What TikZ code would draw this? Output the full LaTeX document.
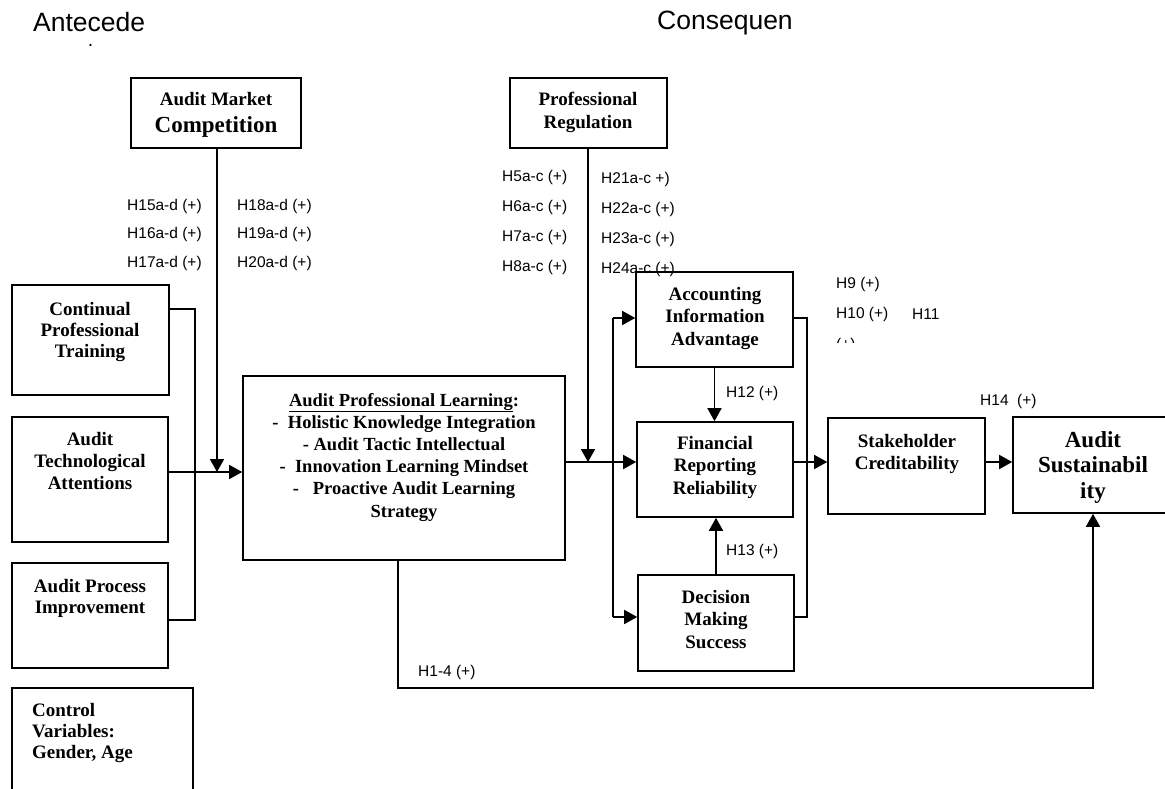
\documentclass[tikz,border=0pt]{standalone}
\usepackage{fontspec}
\setmainfont{Liberation Serif}
\newfontfamily\labfont{Liberation Sans}
\usetikzlibrary{arrows.meta}
\newcommand{\btext}[3]{\fontsize{#1}{#2}\selectfont\bfseries\begin{tabular}[t]{@{}c@{}}#3\end{tabular}}
\newcommand{\btextl}[3]{\fontsize{#1}{#2}\selectfont\bfseries\begin{tabular}[t]{@{}l@{}}#3\end{tabular}}
\newcommand{\mkbox}[5]{\node[bx, minimum width={#4-#2}, minimum height={#5-#3}] (#1) at ({(#2+#4)/2},{(#3+#5)/2}) {};}
\tikzset{
  bx/.style={draw, line width=1.6pt, inner sep=0pt, rectangle},
  lab/.style={font=\labfont\fontsize{15.5}{18}\selectfont, inner sep=0pt, anchor=west},
  hdr/.style={font=\labfont\fontsize{26.5}{30}\selectfont, inner sep=0pt, anchor=base west},
  tx/.style={inner sep=0pt, anchor=base},
  conn/.style={line width=1.6pt},
  arr/.style={conn, -{Triangle[length=13pt,width=14pt]}},
}
\begin{document}
\begin{tikzpicture}[x=1pt,y=-1pt]
\useasboundingbox (0,0) rectangle (1165,789);
\clip (0,0) rectangle (1165,789);
\fill[white] (0,0) rectangle (1165,789);

% headers
\node[hdr] (hA) at (33,32) {Antecede};
\node[hdr] (hC) at (657,30) {Consequen};
\begin{scope}
  \clip (87,0) rectangle (93,46);
  \node[font=\labfont\fontsize{26.5}{30}\selectfont, inner sep=0pt, anchor=base] (hA2) at (90,62) {nts};
\end{scope}

% hypothesis labels
\node[lab] (l15) at (127,206) {H15a-d (+)};
\node[lab] (l16) at (127,234) {H16a-d (+)};
\node[lab] (l17) at (127,263) {H17a-d (+)};
\node[lab] (l18) at (237,206) {H18a-d (+)};
\node[lab] (l19) at (237,234) {H19a-d (+)};
\node[lab] (l20) at (237,263) {H20a-d (+)};
\node[lab] (l5) at (502,177) {H5a-c (+)};
\node[lab] (l6) at (502,207) {H6a-c (+)};
\node[lab] (l7) at (502,237) {H7a-c (+)};
\node[lab] (l8) at (502,267) {H8a-c (+)};
\node[lab] (l21) at (601,179) {H21a-c +)};
\node[lab] (l22) at (601,209) {H22a-c (+)};
\node[lab] (l23) at (601,239) {H23a-c (+)};
\node[lab] (l24) at (601,269) {H24a-c (+)};
\node[lab] (l9) at (836,284) {H9 (+)};
\node[lab] (l10) at (836,314) {H10 (+)};
\node[lab] (l11) at (912,314) {H11};
\begin{scope}
  \clip (0,0) rectangle (1165,342.5);
  \node[lab] (l11b) at (836,345) {(+)};
\end{scope}
\node[lab] (l12) at (726,393) {H12 (+)};
\node[lab] (l13) at (726,551) {H13 (+)};
\node[lab] (l14) at (980,401) {H14~~(+)};
\node[lab] (l14b) at (418,672) {H1-4 (+)};

% boxes
\mkbox{amc}{131}{78}{301}{148}
\mkbox{preg}{510}{78}{667}{148}
\mkbox{cpt}{12}{285}{169}{395}
\mkbox{ata}{12}{417}{168}{542}
\mkbox{api}{12}{563}{168}{668}
\mkbox{ctrl}{12}{688}{193}{820}
\mkbox{apl}{243}{376}{565}{560}
\mkbox{aia}{636}{272}{793}{367}
\mkbox{frr}{637}{422}{793}{517}
\mkbox{dms}{638}{575}{794}{671}
\mkbox{stk}{828}{418}{985}{514}
\mkbox{asus}{1013}{417}{1175}{513}

% box texts
\node[tx] (tamc1) at (216,106) {\btext{19}{22}{Audit Market}};
\node[tx] (tamc2) at (216,133) {\btext{23}{26}{Competition}};
\node[tx] (tpreg) at (588,106) {\btext{19}{23}{Professional\\Regulation}};
\node[tx] (tcpt) at (90,315) {\btext{19}{21}{Continual\\Professional\\Training}};
\node[tx] (tata) at (90,445) {\btext{19}{22}{Audit\\Technological\\Attentions}};
\node[tx] (tapi) at (90,592) {\btext{19}{21}{Audit Process\\Improvement}};
\node[inner sep=0pt, anchor=base west] (tctrl) at (32,716) {\btextl{19}{21}{Control\\Variables:\\Gender, Age}};
\node[tx] (tapl) at (404,406) {\btext{18.5}{22.2}{\underline{Audit Professional Learning}:\\-~~Holistic Knowledge Integration\\- Audit Tactic Intellectual\\-~~Innovation Learning Mindset\\-~~~Proactive Audit Learning\\Strategy}};
\node[tx] (taia) at (715,300) {\btext{19}{22.5}{Accounting\\Information\\Advantage}};
\node[tx] (tfrr) at (715,449) {\btext{19}{22.5}{Financial\\Reporting\\Reliability}};
\node[tx] (tdms) at (716,603) {\btext{19}{22.5}{Decision\\Making\\Success}};
\node[tx] (tstk) at (907,447) {\btext{19}{22}{Stakeholder\\Creditability}};
\node[tx] (tasus) at (1093,447) {\btext{23}{25.5}{Audit\\Sustainabil\\ity}};

% junction coordinates
\coordinate (b1) at (195,309);
\coordinate (b2) at (195,620);
\coordinate (j1) at (217,472);
\coordinate (j2) at (588,462);
\coordinate (b3) at (613,318);
\coordinate (b4) at (613,617);
\coordinate (r3) at (807,318);
\coordinate (r4) at (807,617);
\coordinate (c1) at (398,688);
\coordinate (c2) at (1093,688);

% connectors
\draw[conn] (cpt.east|-b1) -- (b1) -- (b2) -- (api.east|-b2);
\draw[arr] (ata.east|-j1) -- (apl.west|-j1);
\draw[arr] (amc.south-|j1) -- (j1);
\draw[arr] (apl.east|-j2) -- (frr.west|-j2);
\draw[arr] (preg.south-|j2) -- (j2);
\draw[conn] (b3) -- (b4);
\draw[arr] (b3) -- (aia.west|-b3);
\draw[arr] (b4) -- (dms.west|-b4);
\draw[conn] (aia.east|-r3) -- (r3) -- (r4) -- (dms.east|-r4);
\draw[arr] (frr.east|-j2) -- (stk.west|-j2);
\draw[arr] (stk.east|-j2) -- (asus.west|-j2);
\draw[arr] (aia.south) -- (aia.south|-frr.north);
\draw[arr] (dms.north) -- (dms.north|-frr.south);
\draw[arr] (apl.south-|c1) -- (c1) -- (c2) -- (c2|-asus.south);
\end{tikzpicture}
\end{document}
